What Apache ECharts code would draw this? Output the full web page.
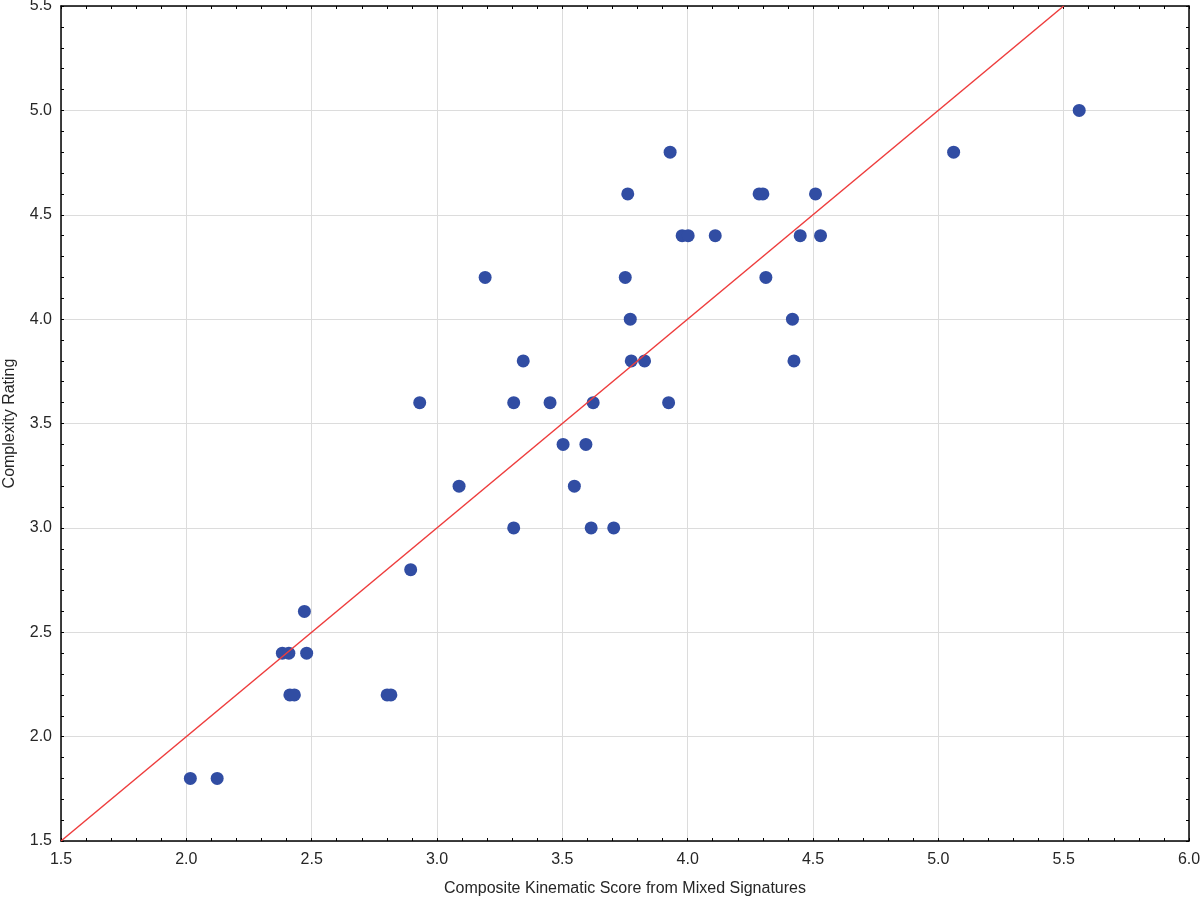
<!DOCTYPE html>
<html>
<head>
<meta charset="utf-8">
<script src="https://cdn.jsdelivr.net/npm/echarts@6/dist/echarts.min.js"></script>
<style>
  html, body { margin: 0; padding: 0; background: #fff; }
  #chart { width: 1200px; height: 898px; }
</style>
</head>
<body>
<div id="chart"></div>
<script>
// Valeurs
const scoreX = [2.016, 2.123, 2.383, 2.409, 2.480, 2.413, 2.431, 2.471, 2.801, 2.816,
  2.895, 2.931, 3.088, 3.192, 3.306, 3.306, 3.344, 3.451, 3.503, 3.548,
  3.594, 3.615, 3.623, 3.705, 3.751, 3.761, 3.771, 3.775, 3.828, 3.924,
  3.930, 3.978, 4.002, 4.110, 4.285, 4.300, 4.312, 4.418, 4.424, 4.449,
  4.510, 4.530, 5.061, 5.562];
const ratingY = [1.8, 1.8, 2.4, 2.4, 2.4, 2.2, 2.2, 2.6, 2.2, 2.2,
  2.8, 3.6, 3.2, 4.2, 3.6, 3.0, 3.8, 3.6, 3.4, 3.2,
  3.4, 3.0, 3.6, 3.0, 4.2, 4.6, 4.0, 3.8, 3.8, 3.6,
  4.8, 4.4, 4.4, 4.4, 4.6, 4.6, 4.2, 4.0, 3.8, 4.4,
  4.6, 4.4, 4.8, 5.0];
const diagX = [1.5, 5.5];
const diagY = [1.5, 5.5];

const police = "'Liberation Sans', Arial, sans-serif";
const encre = "#262626";

function axe(position, principal) {
  const horiz = position === "bottom" || position === "top";
  return {
    type: "value",
    position: position,
    min: 1.5,
    max: horiz ? 6.0 : 5.5,
    interval: 0.5,
    name: principal ? (horiz ? "Composite Kinematic Score from Mixed Signatures" : "Complexity Rating") : "",
    nameLocation: "middle",
    nameGap: horiz ? 40 : 43,
    nameTextStyle: { color: encre, fontSize: 16, fontFamily: police },
    axisLine: { show: true, onZero: false, lineStyle: { color: "#000", width: 1.5 } },
    axisTick: { show: true, inside: true, length: 3, lineStyle: { color: "#000", width: 1 } },
    minorTick: { show: true, splitNumber: 5, length: 3, lineStyle: { color: "#000", width: 1 } },
    axisLabel: {
      show: principal,
      margin: horiz ? 11 : 9,
      color: encre,
      fontSize: 16,
      fontFamily: police,
      formatter: (v) => v.toFixed(1),
    },
    splitLine: { show: principal, lineStyle: { color: "#dcdcdc", width: 1 } },
  };
}

const chart = echarts.init(document.getElementById("chart"));
chart.setOption({
  animation: false,
  textStyle: { fontFamily: police },
  grid: { left: 61, right: 11, top: 6, bottom: 57, containLabel: false, outerBoundsMode: "none" },
  xAxis: [axe("bottom", true), axe("top", false)],
  yAxis: [axe("left", true), axe("right", false)],
  series: [
    {
      type: "scatter",
      data: scoreX.map((x, i) => [x, ratingY[i]]),
      symbol: "circle",
      symbolSize: 13,
      itemStyle: { color: "#314da3", opacity: 1 },
      z: 2,
    },
    {
      type: "line",
      data: diagX.map((x, i) => [x, diagY[i]]),
      showSymbol: false,
      symbol: "none",
      lineStyle: { color: "#ee3d3d", width: 1.5 },
      z: 3,
    },
  ],
});
</script>
</body>
</html>
